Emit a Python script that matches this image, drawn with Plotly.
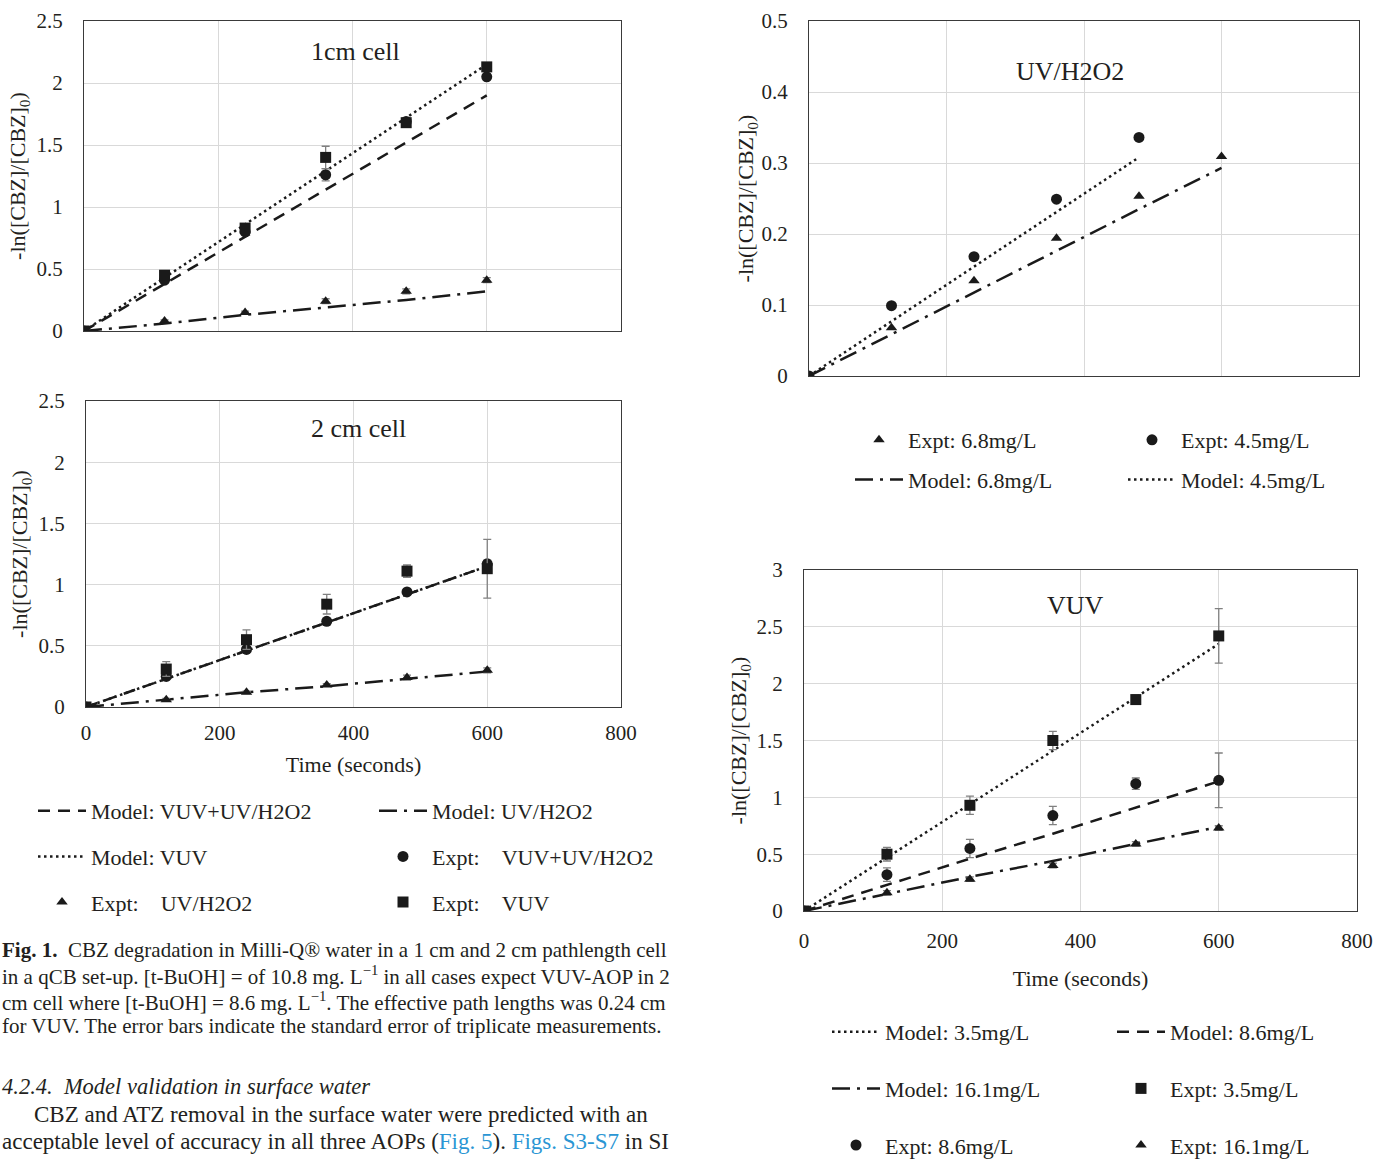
import plotly.graph_objects as go

W, H = 1376, 1159
SERIF = "Liberation Serif"
TXT = "#231f20"
INK = "#1a1a1a"
ERRC = "#808080"
GRID = "#d9d9d9"

# ---------------- data ----------------
time = [0, 120, 240, 360, 480, 600]
time_45 = [0, 120, 240, 360, 480]

# Panel 1: 1 cm cell
c1_expt_vuv = [0, 0.45, 0.83, 1.40, 1.68, 2.13]
c1_expt_vuv_err = [0.01, 0.02, 0.02, 0.09, 0.02, 0.02]
c1_expt_comb = [0, 0.41, 0.80, 1.26, 1.69, 2.05]
c1_expt_comb_err = [0.01, 0.02, 0.02, 0.05, 0.02, 0.02]
c1_expt_uv = [0, 0.08, 0.15, 0.24, 0.32, 0.41]
c1_expt_uv_err = [0.01, 0.01, 0.01, 0.02, 0.02, 0.02]
c1_model_vuv = [0, 0.43, 0.86, 1.29, 1.72, 2.15]
c1_model_comb = [0, 0.38, 0.76, 1.14, 1.52, 1.90]
c1_model_uv = [0, 0.06, 0.13, 0.19, 0.25, 0.32]

# Panel 2: 2 cm cell
c2_expt_vuv = [0, 0.31, 0.55, 0.84, 1.11, 1.13]
c2_expt_vuv_err = [0.01, 0.06, 0.08, 0.08, 0.05, 0.24]
c2_expt_comb = [0, 0.25, 0.47, 0.70, 0.94, 1.17]
c2_expt_comb_err = [0.01, 0.02, 0.02, 0.02, 0.02, 0.03]
c2_expt_uv = [0, 0.06, 0.12, 0.18, 0.24, 0.30]
c2_expt_uv_err = [0.01, 0.01, 0.01, 0.01, 0.02, 0.02]
c2_model_vuv = [0, 0.23, 0.46, 0.69, 0.92, 1.15]
c2_model_comb = [0, 0.23, 0.46, 0.69, 0.92, 1.15]
c2_model_uv = [0, 0.06, 0.12, 0.17, 0.23, 0.29]

# Panel 3: UV/H2O2
h_expt_45 = [0, 0.099, 0.168, 0.249, 0.336]
h_expt_68 = [0, 0.068, 0.134, 0.194, 0.253, 0.309]
h_model_45 = [0, 0.077, 0.154, 0.231, 0.308]
h_model_68 = [0, 0.059, 0.118, 0.176, 0.235, 0.293]

# Panel 4: VUV
v_expt_35 = [0, 0.50, 0.93, 1.50, 1.86, 2.42]
v_expt_35_err = [0.01, 0.06, 0.08, 0.08, 0.04, 0.24]
v_expt_86 = [0, 0.32, 0.55, 0.84, 1.12, 1.15]
v_expt_86_err = [0.01, 0.06, 0.08, 0.08, 0.05, 0.24]
v_expt_161 = [0, 0.16, 0.28, 0.40, 0.59, 0.73]
v_expt_161_err = [0.01, 0.02, 0.02, 0.02, 0.02, 0.02]
v_model_35 = [0, 0.47, 0.94, 1.41, 1.88, 2.35]
v_model_86 = [0, 0.23, 0.46, 0.68, 0.91, 1.14]
v_model_161 = [0, 0.15, 0.30, 0.44, 0.59, 0.74]

# ---------------- styles ----------------
DASH = "12px,8px"
DOT = "2.5px,3.5px"
DASHDOT = "18px,7px,3px,7px"
LW = 2.5


def px(x):
    return x / W


def py(y):
    return 1 - y / H


fig = go.Figure()


def model(xa, ya, x, y, dash, name, legend, rank, show=True):
    fig.add_trace(go.Scatter(
        x=x, y=y, mode="lines", name=name, xaxis=xa, yaxis=ya,
        line=dict(color=INK, width=LW, dash=dash),
        legend=legend, legendgroup=name + legend, legendrank=rank,
        showlegend=show, hoverinfo="skip"))


def expt(xa, ya, x, y, err, symbol, size, name, legend, rank, show=True):
    fig.add_trace(go.Scatter(
        x=x, y=y, mode="markers", name=name, xaxis=xa, yaxis=ya,
        marker=dict(color=INK, size=size, symbol=symbol),
        error_y=dict(type="data", array=err, visible=err is not None,
                     color=ERRC, thickness=1.3, width=4),
        legend=legend, legendgroup=name + legend, legendrank=rank,
        showlegend=show))


NB = "\u00a0"
# Panel 1
model("x", "y", time, c1_model_uv, DASHDOT, "Model: UV/H2O2", "legend2", 1)
model("x", "y", time, c1_model_comb, DASH, "Model: VUV+UV/H2O2", "legend", 1)
model("x", "y", time, c1_model_vuv, DOT, "Model: VUV", "legend", 2)
expt("x", "y", time, c1_expt_uv, c1_expt_uv_err, "triangle-up", 10,
     "Expt:" + NB * 4 + "UV/H2O2", "legend", 3)
expt("x", "y", time, c1_expt_comb, c1_expt_comb_err, "circle", 11,
     "Expt:" + NB * 4 + "VUV+UV/H2O2", "legend2", 2)
expt("x", "y", time, c1_expt_vuv, c1_expt_vuv_err, "square", 11,
     "Expt:" + NB * 4 + "VUV", "legend2", 3)

# Panel 2
model("x2", "y2", time, c2_model_uv, DASHDOT, "Model: UV/H2O2", "legend2", 1, False)
model("x2", "y2", time, c2_model_comb, DASH, "Model: VUV+UV/H2O2", "legend", 1, False)
model("x2", "y2", time, c2_model_vuv, DOT, "Model: VUV", "legend", 2, False)
expt("x2", "y2", time, c2_expt_uv, c2_expt_uv_err, "triangle-up", 10,
     "Expt: UV/H2O2", "legend", 3, False)
expt("x2", "y2", time, c2_expt_comb, c2_expt_comb_err, "circle", 11,
     "Expt: VUV+UV/H2O2", "legend2", 2, False)
expt("x2", "y2", time, c2_expt_vuv, c2_expt_vuv_err, "square", 11,
     "Expt: VUV", "legend2", 3, False)

# Panel 3
model("x3", "y3", time_45, h_model_45, DOT, "Model: 4.5mg/L", "legend4", 2)
model("x3", "y3", time, h_model_68, DASHDOT, "Model: 6.8mg/L", "legend3", 2)
expt("x3", "y3", time, h_expt_68, None, "triangle-up", 10, "Expt: 6.8mg/L", "legend3", 1)
expt("x3", "y3", time_45, h_expt_45, None, "circle", 11, "Expt: 4.5mg/L", "legend4", 1)

# Panel 4
model("x4", "y4", time, v_model_35, DOT, "Model: 3.5mg/L", "legend5", 1)
model("x4", "y4", time, v_model_86, DASH, "Model: 8.6mg/L", "legend6", 1)
model("x4", "y4", time, v_model_161, DASHDOT, "Model: 16.1mg/L", "legend5", 2)
expt("x4", "y4", time, v_expt_161, v_expt_161_err, "triangle-up", 10,
     "Expt: 16.1mg/L", "legend6", 3)
expt("x4", "y4", time, v_expt_86, v_expt_86_err, "circle", 11,
     "Expt: 8.6mg/L", "legend5", 3)
expt("x4", "y4", time, v_expt_35, v_expt_35_err, "square", 11,
     "Expt: 3.5mg/L", "legend6", 2)

# ---------------- axes ----------------
tickfont = dict(family=SERIF, size=21, color=TXT)
ytitle = "-ln([CBZ]/[CBZ]<sub>0</sub>)"


def xaxis(l, r, show_labels, title=None, tstand=7, tistand=12):
    d = dict(domain=[px(l), px(r)], range=[0, 800], dtick=200, tick0=0,
             showgrid=True, gridcolor=GRID, gridwidth=1, zeroline=False,
             showline=True, linecolor="#3a3a3a", linewidth=1.3, mirror=True,
             ticks="", showticklabels=show_labels, tickfont=tickfont,
             ticklabelstandoff=tstand, automargin=False)
    if title:
        d["title"] = dict(text=title, font=dict(family=SERIF, size=22, color=TXT),
                          standoff=tistand)
    return d


def yaxis(t, b, top, dt, anchor, tistand=3):
    return dict(domain=[py(b), py(t)], range=[0, top], dtick=dt, tick0=0,
                showgrid=True, gridcolor=GRID, gridwidth=1, zeroline=False,
                showline=True, linecolor="#3a3a3a", linewidth=1.3, mirror=True,
                ticks="", tickfont=tickfont, ticklabelstandoff=16, anchor=anchor,
                automargin=False,
                title=dict(text=ytitle, font=dict(family=SERIF, size=22, color=TXT),
                           standoff=tistand))


layout = dict(
    width=W, height=H, margin=dict(l=0, r=0, t=0, b=0, autoexpand=False),
    paper_bgcolor="white", plot_bgcolor="white",
    font=dict(family=SERIF, color=TXT),
    xaxis=xaxis(84, 621, False), yaxis=yaxis(21, 331, 2.5, 0.5, "x", 4),
    xaxis2=xaxis(86, 621, True, "Time (seconds)", 7, 12),
    yaxis2=yaxis(401, 707, 2.5, 0.5, "x2", 4),
    xaxis3=xaxis(809, 1359, False), yaxis3=yaxis(21, 376, 0.5, 0.1, "x3", 1),
    xaxis4=xaxis(804, 1357, True, "Time (seconds)", 11, 18),
    yaxis4=yaxis(570, 911, 3, 0.5, "x4", 3),
)
layout["xaxis"]["anchor"] = "y"
layout["xaxis2"]["anchor"] = "y2"
layout["xaxis3"]["anchor"] = "y3"
layout["xaxis4"]["anchor"] = "y4"

ITEMW = 48


def leg(text_x, ypx, gap):
    return dict(x=px(text_x - ITEMW - 10), y=py(ypx), xanchor="left", yanchor="top",
                orientation="v", bgcolor="rgba(0,0,0,0)", borderwidth=0,
                itemwidth=ITEMW,
                font=dict(family=SERIF, size=22, color=TXT),
                traceorder="grouped", tracegroupgap=gap)


layout["legend"] = leg(91, 790, 14)
layout["legend2"] = leg(432, 790, 14)
layout["legend3"] = leg(908, 419, 8)
layout["legend4"] = leg(1181, 419, 8)
layout["legend5"] = leg(885, 1011, 25)
layout["legend6"] = leg(1170, 1011, 25)

fig.update_layout(**layout)

# ---------------- panel titles ----------------
titles = [("1cm cell", 355, 52),
          ("2 cm cell", 358, 428),
          ("UV/H2O2", 1070, 72),
          ("VUV", 1075, 605)]
for text, xx, yy in titles:
    fig.add_annotation(text=text, xref="paper", yref="paper",
                       x=px(xx), y=py(yy), xanchor="center", yanchor="middle",
                       showarrow=False,
                       font=dict(family=SERIF, size=26, color=TXT))

# ---------------- caption & body text ----------------
BLUE = "#2a96d4"
cap_lines = [
    (950, "<b>Fig. 1.</b>" + NB * 2 + "CBZ degradation in Milli-Q® water in a 1 cm and 2 cm pathlength cell", 0, 21),
    (975, "in a qCB set-up. [t-BuOH] = of 10.8 mg. L<sup>−1</sup> in all cases expect VUV-AOP in 2", 0, 21),
    (1001, "cm cell where [t-BuOH] = 8.6 mg. L<sup>−1</sup>. The effective path lengths was 0.24 cm", 0, 21),
    (1026, "for VUV. The error bars indicate the standard error of triplicate measurements.", 0, 21),
    (1086, "<i>4.2.4." + NB * 2 + "Model validation in surface water</i>", 0, 22.5),
    (1114, "CBZ and ATZ removal in the surface water were predicted with an", 32, 23),
    (1141, "acceptable level of accuracy in all three AOPs (<span style='color:" + BLUE
     + "'>Fig. 5</span>). <span style='color:" + BLUE + "'>Figs. S3-S7</span> in SI", 0, 23),
]
for ypos, text, xoff, fs in cap_lines:
    fig.add_annotation(text=text, xref="paper", yref="paper", x=px(xoff), y=py(ypos),
                       xanchor="left", yanchor="middle", showarrow=False,
                       font=dict(family=SERIF, size=fs, color=TXT))

fig.write_html("out.html", config={"displayModeBar": False},
               post_script="document.body.style.margin='0';")
